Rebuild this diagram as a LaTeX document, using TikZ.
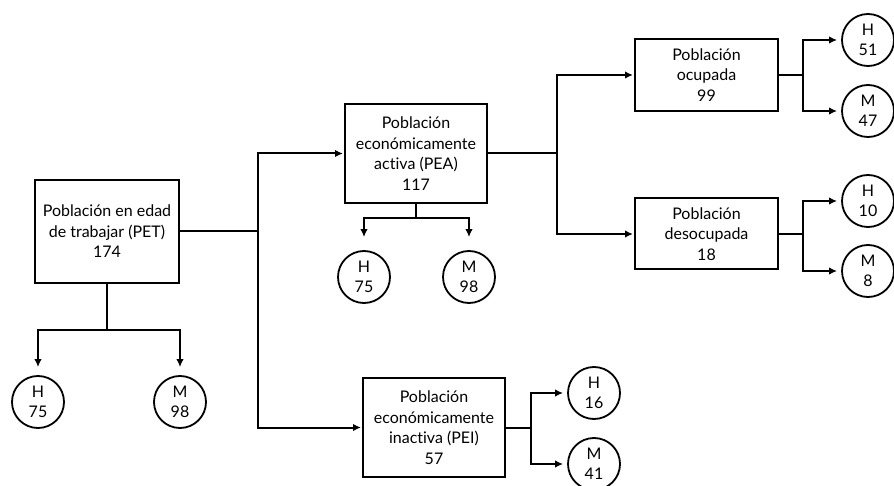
\documentclass[tikz,border=0pt]{standalone}
\usepackage{fontspec}
\setmainfont{Lato}[Ligatures={NoCommon,NoRare,NoDiscretionary}]
\usetikzlibrary{arrows.meta}
\begin{document}
\begin{tikzpicture}[x=1pt,y=-1pt,
  txt/.style={font=\fontsize{16}{20.5}\selectfont},
  box/.style={draw, line width=2pt, align=center, inner sep=0pt, txt},
  circ/.style={draw, circle, line width=1.8pt, minimum size=52pt, inner sep=0pt, align=center, txt},
  conn/.style={line width=2pt},
  arr/.style={conn, -{Latex[length=8pt,width=7.5pt]}, shorten >=1pt}]
\useasboundingbox (0,0) rectangle (894,486);
% boxes
\node[box, minimum width=144pt, minimum height=103pt] (pet) at (107,231.5) {Población en edad\\de trabajar (PET)\\174};
\node[box, minimum width=142pt, minimum height=99pt] (pea) at (416,153.5) {Población\\económicamente\\activa (PEA)\\117};
\node[box, minimum width=142pt, minimum height=99pt] (pei) at (434,427.5) {Población\\económicamente\\inactiva (PEI)\\57};
\node[box, minimum width=143pt, minimum height=72pt] (ocu) at (706.5,75) {Población\\ocupada\\99};
\node[box, minimum width=143pt, minimum height=71pt] (des) at (706.5,234) {Población\\desocupada\\18};
% circles
\node[circ] (petH) at (38,402) {H\\75};
\node[circ] (petM) at (180,402) {M\\98};
\node[circ] (peaH) at (364,277) {H\\75};
\node[circ] (peaM) at (469,277) {M\\98};
\node[circ] (ocuH) at (868,40) {H\\51};
\node[circ] (ocuM) at (868,111) {M\\47};
\node[circ] (desH) at (868,201) {H\\10};
\node[circ] (desM) at (868,271) {M\\8};
\node[circ] (peiH) at (594,393) {H\\16};
\node[circ] (peiM) at (594,464) {M\\41};
% junctions
\coordinate (j1) at (258,231.5);
\coordinate (j2) at (557,153.5);
\coordinate (j3) at (803,75);
\coordinate (j4) at (803,234);
\coordinate (j5) at (531,427.5);
\coordinate (j6) at (107,330);
\coordinate (j7) at (416,218);
% connectors
\draw[conn] (pet.east) -- (j1);
\draw[arr] (j1) |- (pea.west);
\draw[arr] (j1) |- (pei.west);
\draw[conn] (pea.east) -- (j2);
\draw[arr] (j2) |- (ocu.west);
\draw[arr] (j2) |- (des.west);
\draw[conn] (ocu.east) -- (j3);
\draw[arr, shorten >=4pt] (j3) |- (ocuH.west);
\draw[arr, shorten >=4pt] (j3) |- (ocuM.west);
\draw[conn] (des.east) -- (j4);
\draw[arr, shorten >=4pt] (j4) |- (desH.west);
\draw[arr, shorten >=4pt] (j4) |- (desM.west);
\draw[conn] (pei.east) -- (j5);
\draw[arr, shorten >=4pt] (j5) |- (peiH.west);
\draw[arr, shorten >=4pt] (j5) |- (peiM.west);
\draw[conn] (pet.south) -- (j6);
\draw[arr, shorten >=8pt] (j6) -| (petH.north);
\draw[arr, shorten >=8pt] (j6) -| (petM.north);
\draw[conn] (pea.south) -- (j7);
\draw[arr, shorten >=13pt] (j7) -| (peaH.north);
\draw[arr, shorten >=13pt] (j7) -| (peaM.north);
\end{tikzpicture}
\end{document}
